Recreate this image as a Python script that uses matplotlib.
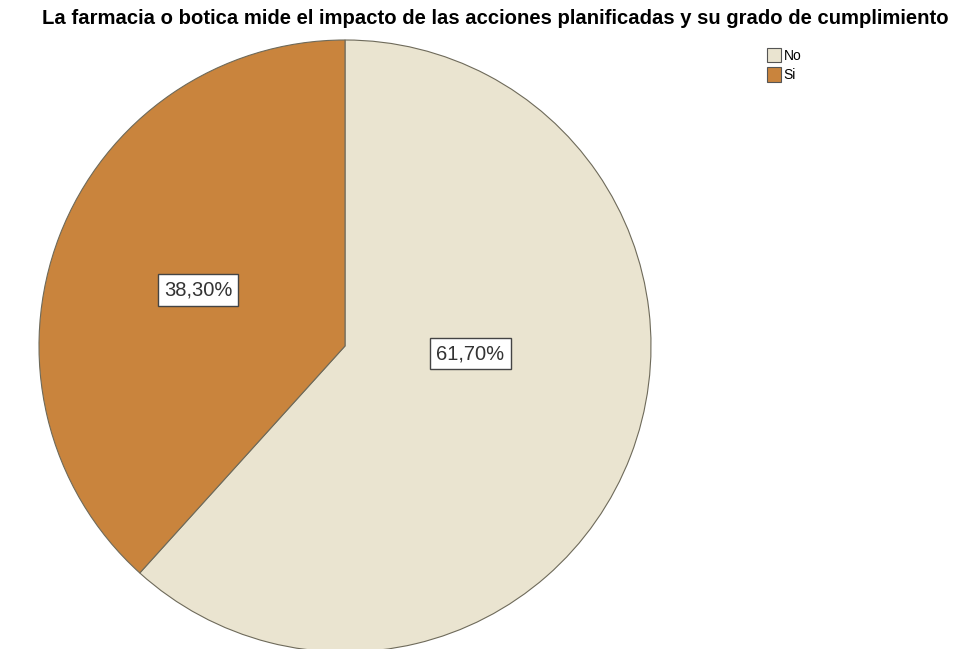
import matplotlib.pyplot as plt
from matplotlib.patches import Patch

categories = ["No", "Si"]
values = [61.7, 38.3]
labels = ["61,70%", "38,30%"]
colors = ["#EAE4D0", "#C9843D"]

W, H = 955, 649
fig = plt.figure(figsize=(W / 100, H / 100), dpi=100)
plt.rcParams['font.family'] = ['Liberation Sans', 'DejaVu Sans']

# pie placed in pixel terms: center (345, 346), radius 306
cx, cy, r = 345, 346, 306
ax = fig.add_axes([(cx - r) / W, (H - cy - r) / H, 2 * r / W, 2 * r / H])
ax.pie(values, colors=colors, startangle=90, counterclock=False, radius=1,
       wedgeprops=dict(edgecolor="#6E6A5A", linewidth=0.8))
ax.set_xlim(-1, 1)
ax.set_ylim(-1, 1)
ax.set_aspect('equal')
ax.axis('off')

box = dict(boxstyle="square,pad=0.3", facecolor="white", edgecolor="#444444", linewidth=1.0)
ax.text(0.41, -0.026, labels[0], ha='center', va='center', fontsize=14.5, color="#333333", bbox=box)
ax.text(-0.48, 0.183, labels[1], ha='center', va='center', fontsize=14.5, color="#333333", bbox=box)

fig.text(0.5 * (38 + 952) / W, 1 - 18 / H,
         "La farmacia o botica mide el impacto de las acciones planificadas y su grado de cumplimiento",
         ha='center', va='center', fontsize=14.6, fontweight='bold', color="black")

handles = [Patch(facecolor=c, edgecolor="#555555", linewidth=0.8) for c in colors]
fig.legend(handles, categories, loc='upper left', bbox_to_anchor=(757 / W, 1 - 38 / H),
           frameon=False, fontsize=10, handlelength=1.0, handleheight=1.2,
           handletextpad=0.2, labelspacing=0.35, borderpad=0.2)

fig.savefig("out.png", dpi=100)
